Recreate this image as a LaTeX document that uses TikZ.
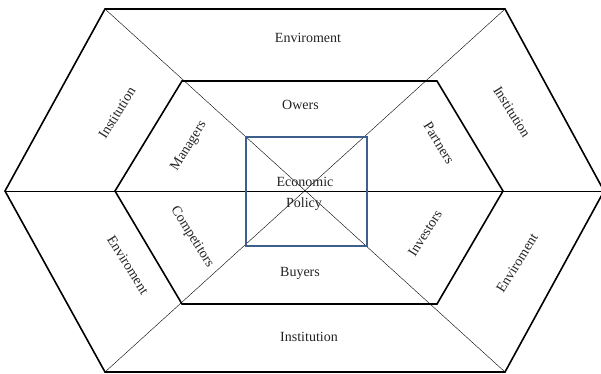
\documentclass[tikz,border=0pt]{standalone}
\usepackage{fontspec}
\setmainfont{Liberation Serif}
\definecolor{sqblue}{RGB}{62,94,140}
\definecolor{thin}{RGB}{90,90,90}
\definecolor{txt}{RGB}{35,35,35}
\begin{document}
\begin{tikzpicture}[x=1pt,y=-1pt,
  thickline/.style={line width=1.6pt,black,line join=miter},
  thinline/.style={line width=0.7pt,thin},
  sqline/.style={line width=1.4pt,sqblue},
  lbl/.style={inner sep=0pt,text=txt,font=\fontsize{14}{16}\selectfont}]
\useasboundingbox (0,0) rectangle (601,373);
% outer hexagon
\coordinate (O1) at (105,9);
\coordinate (O2) at (505,9);
\coordinate (O3) at (604,191);
\coordinate (O4) at (505,372);
\coordinate (O5) at (105,372);
\coordinate (O6) at (5,191);
% inner hexagon
\coordinate (I1) at (182,81);
\coordinate (I2) at (437,81);
\coordinate (I3) at (503,191);
\coordinate (I4) at (437,304);
\coordinate (I5) at (182,304);
\coordinate (I6) at (115,191);
% thin lines
\draw[thinline] (O1) -- (O4);
\draw[thinline] (O2) -- (O5);
\draw[thinline] (O6) -- (O3);
% hexagons
\draw[thickline] (O1) -- (O2) -- (O3) -- (O4) -- (O5) -- (O6) -- cycle;
\draw[thickline] (I1) -- (I2) -- (I3) -- (I4) -- (I5) -- (I6) -- cycle;
% central square
\node[sqline,draw,minimum width=121pt,minimum height=109pt,inner sep=0pt] (sq) at (306.5,191.5) {};
% labels
\node[lbl] (envT) at (308,38) {Enviroment};
\node[lbl] (owers) at (300.5,105) {Owers};
\node[lbl] (econ) at (305,182) {Economic};
\node[lbl] (policy) at (304,204) {Policy};
\node[lbl] (buyers) at (300,273) {Buyers};
\node[lbl] (instB) at (309,337) {Institution};
\node[lbl,rotate=58] (instL) at (117,113) {Institution};
\node[lbl,rotate=58] (managers) at (189,146) {Managers};
\node[lbl,rotate=-58] (partners) at (439,143) {Partners};
\node[lbl,rotate=-58] (instR) at (512,112) {Institution};
\node[lbl,rotate=-58] (competitors) at (192,237) {Competitors};
\node[lbl,rotate=-58] (envL) at (128,265) {Enviroment};
\node[lbl,rotate=58] (investors) at (425,233) {Investors};
\node[lbl,rotate=58] (envR) at (517,263) {Enviroment};
\end{tikzpicture}
\end{document}
